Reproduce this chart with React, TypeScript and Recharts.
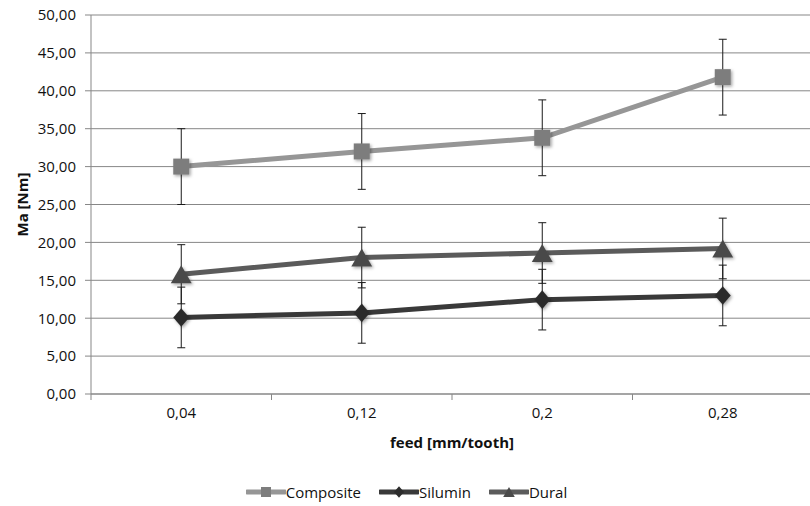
import {
  ComposedChart,
  Line,
  XAxis,
  YAxis,
  CartesianGrid,
  Legend,
  ErrorBar,
} from "recharts";

// ── Data ──────────────────────────────────────────────────────────────────────
const FEEDS = ["0,04", "0,12", "0,2", "0,28"];
const COMPOSITE = [30.0, 32.0, 33.8, 41.8];
const COMPOSITE_ERR = [5, 5, 5, 5];
const SILUMIN = [10.1, 10.7, 12.45, 13.0];
const SILUMIN_ERR = [4, 4, 4, 4];
const DURAL = [15.8, 18.0, 18.6, 19.2];
const DURAL_ERR = [3.9, 4, 4, 4];
const Y_TICKS = [0, 5, 10, 15, 20, 25, 30, 35, 40, 45, 50];

const data = FEEDS.map((feed, i) => ({
  feed,
  Composite: COMPOSITE[i],
  compositeErr: COMPOSITE_ERR[i],
  Silumin: SILUMIN[i],
  siluminErr: SILUMIN_ERR[i],
  Dural: DURAL[i],
  duralErr: DURAL_ERR[i],
}));

const FONT = "'Open Sans', 'Liberation Sans', sans-serif";
const GRID = "#878787";
const SERIES = [
  { key: "Composite", line: "#969696", marker: "#7d7d7d", shape: "square" },
  { key: "Silumin", line: "#393939", marker: "#2c2c2c", shape: "diamond" },
  { key: "Dural", line: "#5b5b5b", marker: "#4a4a4a", shape: "triangle" },
];

function markerPath(shape: string, cx: number, cy: number, s: number) {
  if (shape === "square") {
    return `M${cx - s / 2},${cy - s / 2}h${s}v${s}h${-s}z`;
  }
  if (shape === "diamond") {
    const w = s * 0.5;
    const h = s * 0.58;
    return `M${cx},${cy - h}L${cx + w},${cy}L${cx},${cy + h}L${cx - w},${cy}z`;
  }
  const w = s * 0.58;
  const h = s * 0.5;
  return `M${cx},${cy - h}L${cx + w},${cy + h}L${cx - w},${cy + h}z`;
}

const makeDot = (shape: string, fill: string, size: number) => (props: any) => {
  const { cx, cy, index } = props;
  if (cx == null || cy == null) return <g key={index} />;
  return (
    <path
      key={index}
      d={markerPath(shape, cx, cy, size)}
      fill={fill}
      filter="url(#mshadow)"
    />
  );
};

const FeedTick = (props: any) => {
  const { x, y, payload } = props;
  const half = payload.offset || 0;
  return (
    <g>
      <line x1={x - half} y1={y - 8} x2={x - half} y2={y - 2} stroke={GRID} />
      <text x={x} y={y + 16} textAnchor="middle" fontSize={15} fontFamily={FONT} fill="#111">
        {payload.value}
      </text>
    </g>
  );
};

const YTitle = (props: any) => {
  const { viewBox } = props;
  const cx = viewBox.x + 22;
  const cy = viewBox.y + viewBox.height / 2;
  return (
    <text
      x={cx}
      y={cy}
      transform={`rotate(-90, ${cx}, ${cy})`}
      textAnchor="middle"
      dominantBaseline="central"
      fontSize={15}
      fontWeight="bold"
      fontFamily={FONT}
      fill="#111"
    >
      Ma [Nm]
    </text>
  );
};

const LegendContent = () => (
  <div
    style={{
      display: "flex",
      justifyContent: "center",
      alignItems: "center",
      gap: 18,
      height: 52,
      paddingTop: 24,
      boxSizing: "border-box",
      fontFamily: FONT,
      fontSize: 15,
      color: "#111",
    }}
  >
    {SERIES.map((s) => (
      <div key={s.key} style={{ display: "flex", alignItems: "center" }}>
        <svg width={40} height={14}>
          <line x1={1} y1={7} x2={39} y2={7} stroke={s.line} strokeWidth={5} strokeLinecap="round" />
          <path d={markerPath(s.shape, 20, 7, 10)} fill={s.marker} />
        </svg>
        <span>{s.key}</span>
      </div>
    ))}
  </div>
);

export default function App() {
  return (
    <div style={{ position: "absolute", left: 0, top: 0, background: "#fff" }}>
      <ComposedChart
        width={810}
        height={506}
        data={data}
        margin={{ top: 15, right: -3, left: 0, bottom: 0 }}
      >
        <defs>
          <filter id="mshadow" x="-50%" y="-50%" width="200%" height="200%">
            <feDropShadow dx="1.5" dy="1.5" stdDeviation="1.5" floodColor="#000" floodOpacity="0.35" />
          </filter>
        </defs>
        <CartesianGrid vertical={false} stroke={GRID} />
        <XAxis
          dataKey="feed"
          scale="band"
          height={60}
          stroke={GRID}
          tickLine={false}
          tick={<FeedTick />}
          label={{
            value: "feed [mm/tooth]",
            position: "insideBottom",
            offset: 6,
            fontSize: 15,
            fontWeight: "bold",
            fontFamily: FONT,
            fill: "#111",
          }}
        />
        <YAxis
          width={91}
          domain={[0, 50]}
          ticks={Y_TICKS}
          interval={0}
          stroke={GRID}
          tickSize={6}
          tickMargin={9}
          tickFormatter={(v: number) => v.toFixed(2).replace(".", ",")}
          tick={{ fontSize: 15, fontFamily: FONT, fill: "#111" }}
          label={<YTitle />}
        />
        <Legend verticalAlign="bottom" content={<LegendContent />} />
        <Line
          dataKey="Composite"
          stroke={SERIES[0].line}
          strokeWidth={5}
          dot={makeDot("square", SERIES[0].marker, 16)}
          isAnimationActive={false}
        >
          <ErrorBar dataKey="compositeErr" direction="y" width={4} stroke="#1a1a1a" strokeWidth={1} />
        </Line>
        <Line
          dataKey="Silumin"
          stroke={SERIES[1].line}
          strokeWidth={5}
          dot={makeDot("diamond", SERIES[1].marker, 16)}
          isAnimationActive={false}
        >
          <ErrorBar dataKey="siluminErr" direction="y" width={4} stroke="#1a1a1a" strokeWidth={1} />
        </Line>
        <Line
          dataKey="Dural"
          stroke={SERIES[2].line}
          strokeWidth={5}
          dot={makeDot("triangle", SERIES[2].marker, 18)}
          isAnimationActive={false}
        >
          <ErrorBar dataKey="duralErr" direction="y" width={4} stroke="#1a1a1a" strokeWidth={1} />
        </Line>
      </ComposedChart>
    </div>
  );
}
